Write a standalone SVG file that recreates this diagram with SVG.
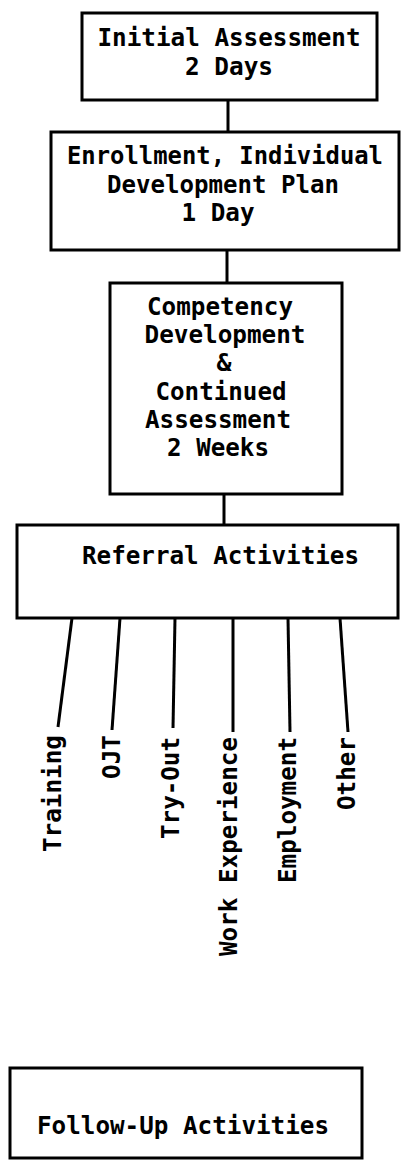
<svg xmlns="http://www.w3.org/2000/svg" width="402" height="1162" viewBox="0 0 402 1162">
<style>
.box{fill:#fff;stroke:#000;stroke-width:3}
.t{font-family:"DejaVu Sans Mono","Liberation Mono",monospace;font-weight:bold;font-size:25px;fill:#000}
.c{stroke:#000;stroke-width:3;fill:none}
</style>
<rect width="402" height="1162" fill="#fff"/>
<g id="connectors">
<line class="c" x1="228" y1="100" x2="228" y2="132"/>
<line class="c" x1="227" y1="250" x2="227" y2="283"/>
<line class="c" x1="224" y1="494" x2="224" y2="525"/>
<line class="c" x1="72" y1="618" x2="58" y2="727"/>
<line class="c" x1="120" y1="618" x2="112" y2="730"/>
<line class="c" x1="175" y1="618" x2="173" y2="728"/>
<line class="c" x1="233" y1="618" x2="233" y2="732"/>
<line class="c" x1="288" y1="618" x2="290" y2="732"/>
<line class="c" x1="340" y1="618" x2="348" y2="732"/>
</g>
<g id="initial">
<rect class="box" x="82" y="13" width="295" height="87"/>
<text class="t" x="229" y="46" text-anchor="middle" textLength="263" lengthAdjust="spacingAndGlyphs">Initial Assessment</text>
<text class="t" x="229" y="75" text-anchor="middle" textLength="88" lengthAdjust="spacingAndGlyphs">2 Days</text>
</g>
<g id="enrollment">
<rect class="box" x="51" y="132" width="348" height="118"/>
<text class="t" x="225" y="164" text-anchor="middle" textLength="316" lengthAdjust="spacingAndGlyphs">Enrollment, Individual</text>
<text class="t" x="223" y="193" text-anchor="middle" textLength="232" lengthAdjust="spacingAndGlyphs">Development Plan</text>
<text class="t" x="218" y="221" text-anchor="middle" textLength="73" lengthAdjust="spacingAndGlyphs">1 Day</text>
</g>
<g id="competency">
<rect class="box" x="110" y="283" width="232" height="211"/>
<text class="t" x="220" y="315" text-anchor="middle" textLength="146" lengthAdjust="spacingAndGlyphs">Competency</text>
<text class="t" x="225" y="343" text-anchor="middle" textLength="161" lengthAdjust="spacingAndGlyphs">Development</text>
<text class="t" x="224" y="371" text-anchor="middle" textLength="15" lengthAdjust="spacingAndGlyphs">&amp;</text>
<text class="t" x="221" y="400" text-anchor="middle" textLength="131" lengthAdjust="spacingAndGlyphs">Continued</text>
<text class="t" x="218" y="428" text-anchor="middle" textLength="146" lengthAdjust="spacingAndGlyphs">Assessment</text>
<text class="t" x="218" y="456" text-anchor="middle" textLength="102" lengthAdjust="spacingAndGlyphs">2 Weeks</text>
</g>
<g id="referral">
<rect class="box" x="17" y="525" width="381" height="93"/>
<text class="t" x="82" y="564" textLength="277" lengthAdjust="spacingAndGlyphs">Referral Activities</text>
</g>
<g id="labels">
<text class="t" transform="translate(61,735) rotate(-90)" text-anchor="end" textLength="117" lengthAdjust="spacingAndGlyphs">Training</text>
<text class="t" transform="translate(120,735) rotate(-90)" text-anchor="end" textLength="44" lengthAdjust="spacingAndGlyphs">OJT</text>
<text class="t" transform="translate(179,737) rotate(-90)" text-anchor="end" textLength="102" lengthAdjust="spacingAndGlyphs">Try-Out</text>
<text class="t" transform="translate(237,737) rotate(-90)" text-anchor="end" textLength="219" lengthAdjust="spacingAndGlyphs">Work Experience</text>
<text class="t" transform="translate(296,737) rotate(-90)" text-anchor="end" textLength="146" lengthAdjust="spacingAndGlyphs">Employment</text>
<text class="t" transform="translate(355,737) rotate(-90)" text-anchor="end" textLength="73" lengthAdjust="spacingAndGlyphs">Other</text>
</g>
<g id="followup">
<rect class="box" x="10" y="1068" width="352" height="90"/>
<text class="t" x="37" y="1134" textLength="292" lengthAdjust="spacingAndGlyphs">Follow-Up Activities</text>
</g>
</svg>
